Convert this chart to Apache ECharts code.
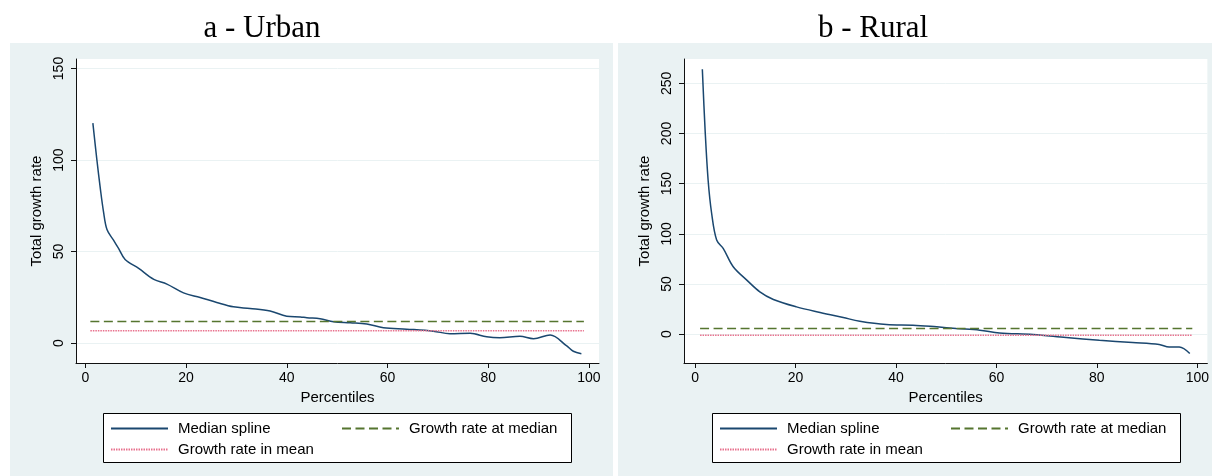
<!DOCTYPE html>
<html>
<head>
<meta charset="utf-8">
<script src="https://cdn.jsdelivr.net/npm/echarts@6/dist/echarts.min.js"></script>
<style>
html,body{margin:0;padding:0;background:#fff;}
#chart{width:1212px;height:476px;}
</style>
</head>
<body>
<div id="chart"></div>
<script>
// ---- data ----
const panelTitles = ['a - Urban', 'b - Rural'];
const xTicks = [0, 20, 40, 60, 80, 100];
const urbanYTicks = [0, 50, 100, 150];
const ruralYTicks = [0, 50, 100, 150, 200, 250];

const urbanX = [1.5, 2.3, 3.0, 3.6, 4.3, 5.6, 6.6, 7.9, 10.6, 13.6, 16.2, 19.5, 22.8, 26.1, 29.4, 32.7, 36.7, 40.0, 42.7, 44.0, 46.6, 49.3, 52.6, 55.9, 59.2, 63.8, 69.1, 72.4, 76.4, 79.7, 82.3, 86.3, 89.0, 92.3, 95.6, 96.9, 98.5];
const urbanY = [120.2, 100, 84, 72, 62, 56.2, 51.7, 45.7, 40.8, 34.8, 32.2, 27.4, 24.9, 22.2, 19.8, 18.9, 17.5, 14.7, 14.3, 13.8, 13.3, 11.7, 11.1, 10.4, 8.4, 7.6, 6.5, 5.1, 5.3, 3.4, 2.9, 3.7, 2.4, 4.4, -1.6, -4.5, -5.8];
const urbanMedian = 11.8;
const urbanMean = 6.7;

const ruralX = [1.45, 2.0, 2.6, 3.3, 4.3, 5.6, 7.6, 10.3, 12.9, 15.6, 20.2, 24.9, 29.5, 32.8, 38.1, 43.4, 48.1, 52.0, 56.7, 60.6, 67.3, 73.9, 80.5, 87.1, 92.4, 94.4, 96.4, 98.5];
const ruralY = [264, 203.6, 153.7, 120.5, 93.8, 85.5, 67.2, 53.9, 42.2, 34.6, 27.2, 21.6, 16.6, 13.0, 9.7, 9.0, 7.3, 5.7, 4.0, 1.3, -0.3, -3.3, -6.0, -8.3, -10.3, -12.7, -12.7, -19.3];
const ruralMedian = 5.7;
const ruralMean = -1.0;

const refLineX = [1, 99];
const seriesNames = ['Median spline', 'Growth rate at median', 'Growth rate in mean'];

// ---- styles ----
const C_SPLINE = '#1a476f', C_MEDIAN = '#55752f', C_MEAN = '#e8718d';
const BG = '#eaf2f3';
const SANS = 'Liberation Sans, Arial, sans-serif';

function zip(xs, ys) { return xs.map((x, i) => [x, ys[i]]); }
function flat(v) { return refLineX.map(x => [x, v]); }

const grids = [
  {left: 76, top: 59, width: 523, height: 304},
  {left: 684, top: 59, width: 524, height: 304}
];
const xRanges = [[-1.85, 102], [-2.2, 102]];
const yRanges = [[-10.9, 155.2], [-28.7, 274.2]];
const yTickSets = [urbanYTicks, ruralYTicks];

const chart = echarts.init(document.getElementById('chart'), null, {renderer: 'canvas'});

const xAxes = grids.map((g, i) => ({
  type: 'value', gridIndex: i, min: xRanges[i][0], max: xRanges[i][1],
  name: 'Percentiles', nameLocation: 'middle', nameGap: 24,
  nameTextStyle: {fontFamily: SANS, fontSize: 15, color: '#000'},
  axisLine: {onZero: false, lineStyle: {color: '#111', width: 1}},
  axisTick: {show: true, length: 5, customValues: xTicks, lineStyle: {color: '#111'}},
  axisLabel: {customValues: xTicks, margin: 8, fontFamily: SANS, fontSize: 14, color: '#000'},
  splitLine: {show: false}
}));
const yAxes = grids.map((g, i) => ({
  type: 'value', gridIndex: i, min: yRanges[i][0], max: yRanges[i][1],
  name: 'Total growth rate', nameLocation: 'middle', nameGap: 32,
  nameTextStyle: {fontFamily: SANS, fontSize: 15, color: '#000'},
  axisLine: {show: true, onZero: false, lineStyle: {color: '#111', width: 1}},
  axisTick: {show: true, length: 5, customValues: yTickSets[i], lineStyle: {color: '#111'}},
  axisLabel: {customValues: yTickSets[i], rotate: 90, margin: 10, fontFamily: SANS, fontSize: 14, color: '#000'},
  splitLine: {show: true, lineStyle: {color: BG, width: 1}}
}));

function panelSeries(i, xs, ys, med, mean) {
  return [
    {name: seriesNames[0], type: 'line', xAxisIndex: i, yAxisIndex: i, data: zip(xs, ys),
     smooth: 0.35, symbol: 'none', lineStyle: {color: C_SPLINE, width: 1.5}, itemStyle: {color: C_SPLINE}},
    {name: seriesNames[1], type: 'line', xAxisIndex: i, yAxisIndex: i, data: flat(med),
     symbol: 'none', lineStyle: {color: C_MEDIAN, width: 1.5, type: [9, 4.5]}, itemStyle: {color: C_MEDIAN}},
    {name: seriesNames[2], type: 'line', xAxisIndex: i, yAxisIndex: i, data: flat(mean),
     symbol: 'none', lineStyle: {color: C_MEAN, width: 1.5, type: [1.5, 1]}, itemStyle: {color: C_MEAN}}
  ];
}

const legendPos = [
  [110, 421, 0], [341, 421, 1], [110, 442, 2],
  [719, 421, 0], [950, 421, 1], [719, 442, 2]
];
const legends = legendPos.map(p => ({
  data: [seriesNames[p[2]]], left: p[0], top: p[1], padding: 0,
  itemWidth: 57, itemHeight: 14, selectedMode: false,
  itemStyle: {opacity: 0, borderWidth: 0},
  textStyle: {fontFamily: SANS, fontSize: 15, color: '#000', padding: [0, 0, 0, 5]}
}));

const option = {
  animation: false,
  backgroundColor: '#fff',
  title: [
    {text: panelTitles[0], left: 257, top: 8, textAlign: 'center',
     textStyle: {fontFamily: 'Liberation Serif, serif', fontSize: 31, fontWeight: 'normal', color: '#000'}},
    {text: panelTitles[1], left: 868, top: 8, textAlign: 'center',
     textStyle: {fontFamily: 'Liberation Serif, serif', fontSize: 31, fontWeight: 'normal', color: '#000'}}
  ],
  graphic: [
    {type: 'rect', z: -10, shape: {x: 10, y: 43, width: 603, height: 433}, style: {fill: BG}, silent: true},
    {type: 'rect', z: -10, shape: {x: 618, y: 43, width: 594, height: 433}, style: {fill: BG}, silent: true},
    {type: 'rect', z: 3, shape: {x: 103.5, y: 413.5, width: 468, height: 49}, style: {fill: '#fff', stroke: '#000', lineWidth: 1}, silent: true},
    {type: 'rect', z: 3, shape: {x: 712.5, y: 413.5, width: 468, height: 49}, style: {fill: '#fff', stroke: '#000', lineWidth: 1}, silent: true}
  ],
  grid: grids.map(g => Object.assign({show: true, backgroundColor: '#fff', borderWidth: 0, containLabel: false}, g)),
  xAxis: xAxes,
  yAxis: yAxes,
  legend: legends,
  series: [].concat(
    panelSeries(0, urbanX, urbanY, urbanMedian, urbanMean),
    panelSeries(1, ruralX, ruralY, ruralMedian, ruralMean)
  )
};
chart.setOption(option);
</script>
</body>
</html>
